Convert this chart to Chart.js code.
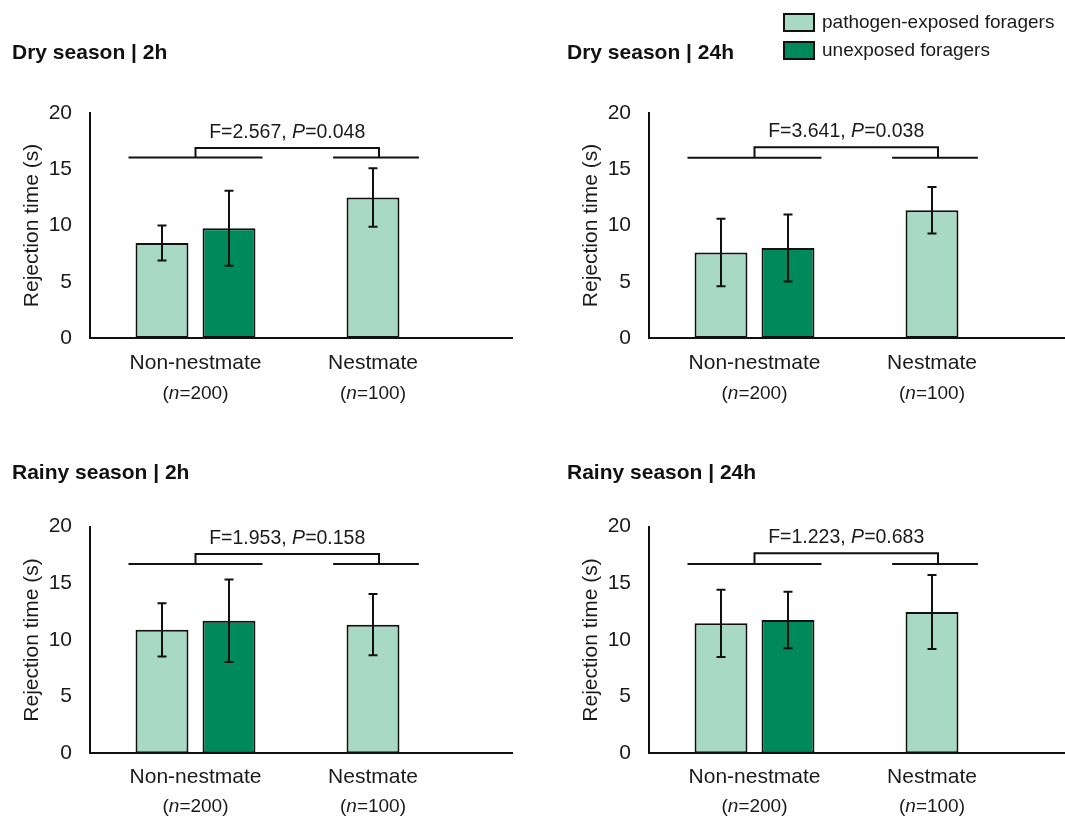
<!DOCTYPE html>
<html>
<head>
<meta charset="utf-8">
<script src="https://cdn.jsdelivr.net/npm/chart.js@4.4.0/dist/chart.umd.min.js"></script>
<style>
  body { margin: 0; background: #fff; overflow: hidden; width: 1065px; height: 816px; position: relative;
         font-family: "Liberation Sans", Arial, sans-serif; color: #1a1a1a; }
  canvas { position: absolute; }
  .legend { position: absolute; left: 783px; top: 8px; font-size: 19px; }
  .legend .row { height: 28px; display: flex; align-items: center; }
  .legend .box { box-sizing: border-box; width: 32px; height: 19px; border: 2px solid #111; margin-right: 7px; }
</style>
</head>
<body>
<canvas id="c0" width="520" height="410" style="left:0;top:0"></canvas>
<canvas id="c1" width="520" height="410" style="left:559px;top:0"></canvas>
<canvas id="c2" width="520" height="406" style="left:0;top:410px"></canvas>
<canvas id="c3" width="520" height="406" style="left:559px;top:410px"></canvas>
<div class="legend">
  <div class="row"><span class="box" style="background:#a8d9c4"></span>pathogen-exposed foragers</div>
  <div class="row"><span class="box" style="background:#00895a"></span>unexposed foragers</div>
</div>
<script>
const categories = ['Non-nestmate', 'Nestmate'];
const sampleSizes = ['200', '100'];
const panelTitles = ['Dry season | 2h', 'Dry season | 24h', 'Rainy season | 2h', 'Rainy season | 24h'];
const yTicks = [0, 5, 10, 15, 20];

// mean rejection time (s) and error, per panel: [Non-nestmate, Nestmate]
const exposedMeans = [[8.45, 12.5], [7.6, 11.35], [10.9, 11.35], [11.47, 12.47]];
const exposedErr = [[1.55, 2.6], [3.0, 2.07], [2.35, 2.7], [2.97, 3.27]];
const unexposedMeans = [[9.75, null], [8.0, null], [11.7, null], [11.76, null]];
const unexposedErr = [[3.33, null], [2.98, null], [3.65, null], [2.49, null]];

// ANOVA results and bracket heights (in y units)
const fStats = ['2.567', '3.641', '1.953', '1.223'];
const pValues = ['0.048', '0.038', '0.158', '0.683'];
const bracketLow = [16.05, 16.03, 16.7, 16.7];
const bracketHigh = [16.9, 16.95, 17.6, 17.65];

const colorExposed = '#a8d9c4';
const colorUnexposed = '#00895a';
const ink = '#1a1a1a';
const family = '"Liberation Sans", Arial, sans-serif';
const barPct = 0.79;

Chart.defaults.font.family = family;

function drawMixed(ctx, parts, cx, cy, size) {
  let total = 0;
  parts.forEach(([t, it]) => {
    ctx.font = (it ? 'italic ' : '') + size + 'px ' + family;
    total += ctx.measureText(t).width;
  });
  let xx = cx - total / 2;
  ctx.textBaseline = 'middle';
  ctx.textAlign = 'left';
  parts.forEach(([t, it]) => {
    ctx.font = (it ? 'italic ' : '') + size + 'px ' + family;
    ctx.fillText(t, xx, cy);
    xx += ctx.measureText(t).width;
  });
}

const annotatePlugin = {
  id: 'annotate',
  afterDatasetsDraw(chart, args, opts) {
    const ctx = chart.ctx;
    const xs = chart.scales.x, ys = chart.scales.y;
    const p = opts.panel;
    ctx.save();
    ctx.strokeStyle = '#111';
    ctx.lineWidth = 2;

    // error bars
    [exposedErr[p], unexposedErr[p]].forEach((errs, d) => {
      const meta = chart.getDatasetMeta(d);
      const means = chart.data.datasets[d].data;
      meta.data.forEach((bar, j) => {
        if (means[j] == null) return;
        const top = ys.getPixelForValue(means[j] + errs[j]);
        const bot = ys.getPixelForValue(means[j] - errs[j]);
        ctx.beginPath();
        ctx.moveTo(bar.x, top); ctx.lineTo(bar.x, bot);
        ctx.moveTo(bar.x - 4.5, top); ctx.lineTo(bar.x + 4.5, top);
        ctx.moveTo(bar.x - 4.5, bot); ctx.lineTo(bar.x + 4.5, bot);
        ctx.stroke();
      });
    });

    // bracket
    const lowY = ys.getPixelForValue(bracketLow[p]);
    const highY = ys.getPixelForValue(bracketHigh[p]);
    const groupC = xs.getPixelForValue(0);
    const nestBar = chart.getDatasetMeta(0).data[1];
    const slot = nestBar.width / barPct;
    const rightC = nestBar.x + 3;
    const rightV = nestBar.x + 6;
    ctx.beginPath();
    ctx.moveTo(groupC - slot, lowY); ctx.lineTo(groupC + slot, lowY);
    ctx.moveTo(rightC - 0.64 * slot, lowY); ctx.lineTo(rightC + 0.64 * slot, lowY);
    ctx.moveTo(groupC, lowY); ctx.lineTo(groupC, highY); ctx.lineTo(rightV, highY); ctx.lineTo(rightV, lowY);
    ctx.stroke();

    ctx.fillStyle = ink;
    drawMixed(ctx, [['F=' + fStats[p] + ', ', false], ['P', true], ['=' + pValues[p], false]],
      (groupC + rightV) / 2, highY - 15.5, 19.5);

    // category labels
    const base = chart.chartArea.bottom;
    const labelX = [groupC, nestBar.x];
    categories.forEach((c, j) => {
      ctx.font = '21px ' + family;
      ctx.textAlign = 'center';
      ctx.textBaseline = 'middle';
      ctx.fillText(c, labelX[j], base + opts.line1);
      drawMixed(ctx, [['(', false], ['n', true], ['=' + sampleSizes[j] + ')', false]], labelX[j], base + opts.line2, 19);
    });
    ctx.restore();
  }
};

const panelLayout = [
  { padLeft: 12, titleTop: 40.4, titleBottom: 47.4, xHeight: 72, line1: 25, line2: 56 },
  { padLeft: 8, titleTop: 40.4, titleBottom: 47.4, xHeight: 72, line1: 25, line2: 56 },
  { padLeft: 12, titleTop: 50.7, titleBottom: 40.8, xHeight: 62.7, line1: 23.5, line2: 53 },
  { padLeft: 8, titleTop: 50.7, titleBottom: 40.8, xHeight: 62.7, line1: 23.5, line2: 53 }
];

panelTitles.forEach((title, i) => {
  const lay = panelLayout[i];
  new Chart(document.getElementById('c' + i), {
    type: 'bar',
    data: {
      labels: categories,
      datasets: [
        { label: 'pathogen-exposed foragers', data: exposedMeans[i], backgroundColor: colorExposed,
          borderColor: '#111', borderWidth: 2, borderSkipped: false },
        { label: 'unexposed foragers', data: unexposedMeans[i], backgroundColor: colorUnexposed,
          borderColor: '#111', borderWidth: 2, borderSkipped: false }
      ]
    },
    options: {
      responsive: false,
      animation: false,
      layout: { padding: { left: lay.padLeft, right: 8, top: 0, bottom: 0 } },
      datasets: { bar: { categoryPercentage: 0.635, barPercentage: barPct } },
      plugins: {
        legend: { display: false },
        tooltip: { enabled: false },
        title: {
          display: true, text: title, align: 'start', color: '#111',
          font: { size: 21, weight: 'bold' },
          padding: { top: lay.titleTop, bottom: lay.titleBottom }
        },
        annotate: { panel: i, line1: lay.line1, line2: lay.line2 }
      },
      scales: {
        x: {
          ticks: { display: false },
          grid: { display: false, drawTicks: false },
          border: { color: '#111', width: 2 },
          afterFit(s) { s.height = lay.xHeight; }
        },
        y: {
          min: 0, max: 20,
          afterBuildTicks(s) { s.ticks = yTicks.map(v => ({ value: v })); },
          ticks: { padding: 18, color: ink, font: { size: 21 } },
          grid: { display: false, drawTicks: false },
          border: { color: '#111', width: 2 },
          title: { display: true, text: 'Rejection time (s)', color: ink, font: { size: 21 },
                   padding: { top: 19.4 - lay.padLeft } },
          afterFit(s) { s.width = 90 - lay.padLeft; }
        }
      }
    },
    plugins: [annotatePlugin]
  });
});
</script>
</body>
</html>
